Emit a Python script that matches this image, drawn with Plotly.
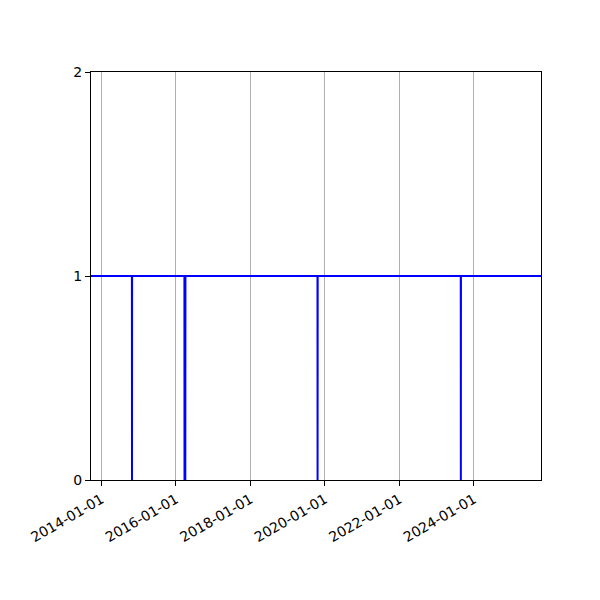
import plotly.graph_objects as go

# status series: 1 = up, 0 = down (dates)
dates = ["2013-09-20", "2014-10-26", "2014-10-27", "2014-10-28",
         "2016-03-24", "2016-03-25", "2016-04-02", "2016-04-03",
         "2019-10-20", "2019-10-21", "2019-10-22",
         "2023-08-25", "2023-08-26", "2023-08-27", "2025-10-20"]
status = [1, 1, 0, 1,
          1, 0, 0, 1,
          1, 0, 1,
          1, 0, 1, 1]

x_ticks = ["2014-01-01", "2016-01-01", "2018-01-01",
           "2020-01-01", "2022-01-01", "2024-01-01"]
y_ticks = [0, 1, 2]

fig = go.Figure()
fig.add_trace(go.Scatter(x=dates, y=status, mode="lines",
                         line=dict(color="#0000ff", width=2)))

fig.update_layout(
    width=600, height=600,
    margin=dict(l=83, r=67, t=64, b=128),
    plot_bgcolor="white", paper_bgcolor="white",
    showlegend=False,
    font=dict(family="DejaVu Sans", size=14, color="black"),
)
fig.update_xaxes(
    type="date", range=["2013-09-20", "2025-10-20"],
    tickvals=x_ticks, ticktext=x_ticks, tickangle=-30,
    showgrid=True, gridcolor="#b0b0b0", gridwidth=1,
    showline=True, linecolor="black", linewidth=1, mirror=True,
    ticks="outside", ticklen=5, tickcolor="black",
    zeroline=False,
)
fig.update_yaxes(
    range=[0, 2], tickvals=y_ticks,
    showgrid=False,
    showline=True, linecolor="black", linewidth=1, mirror=True,
    ticks="outside", ticklen=5, tickcolor="black",
    zeroline=False,
)

fig.write_html("out.html")
